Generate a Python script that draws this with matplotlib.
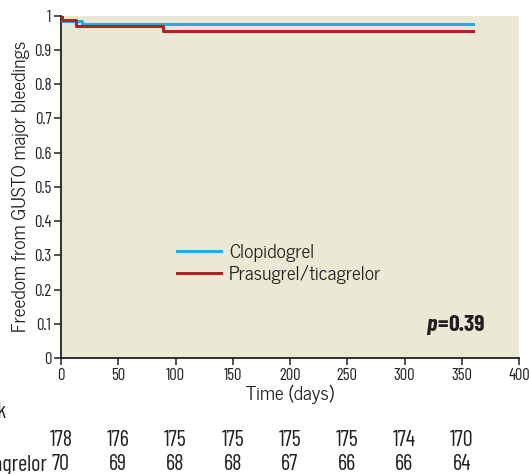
import matplotlib
matplotlib.use("Agg")
import matplotlib.pyplot as plt

# Data
clopi_t = [0, 1, 18, 360]
clopi_s = [1.0, 0.986, 0.977, 0.977]
pras_t = [0, 1, 13, 89, 360]
pras_s = [1.0, 0.988, 0.970, 0.955, 0.955]
risk_days = [0, 50, 100, 150, 200, 250, 300, 350]
risk_clopi = [178, 176, 175, 175, 175, 175, 174, 170]
risk_pras = [70, 69, 68, 68, 67, 66, 66, 64]
xticks = [0, 50, 100, 150, 200, 250, 300, 350, 400]
yticks = [0, 0.1, 0.2, 0.3, 0.4, 0.5, 0.6, 0.7, 0.8, 0.9, 1]
ytick_labels = ["0", "0.1", "0.2", "0.3", "0.4", "0.5", "0.6", "0.7", "0.8", "0.9", "1"]

narrow = ["Barlow Condensed", "Roboto Condensed", "DejaVu Sans"]
reg = ["News Cycle", "Liberation Sans", "DejaVu Sans"]
ink = "#231F20"

W, H = 529, 474
fig = plt.figure(figsize=(W/100, H/100), dpi=100)
ax = fig.add_axes([61/W, 1-358/H, (519-61)/W, (358-15.75)/H])
ax.set_facecolor("#ECE8D6")
blue = "#2BAAE1"
red = "#B3202A"
ax.step(clopi_t, clopi_s, where="post", color=blue, lw=2.2, label="Clopidogrel", zorder=3)
ax.step(pras_t, pras_s, where="post", color=red, lw=2.2, label="Prasugrel/ticagrelor", zorder=4)
ax.set_xlim(0, 400)
ax.set_ylim(0, 1)
for s in ["top", "right"]:
    ax.spines[s].set_visible(False)
for s in ["left", "bottom"]:
    ax.spines[s].set_linewidth(1.3)
    ax.spines[s].set_color(ink)
ax.set_xticks(xticks)
ax.set_xticklabels([str(v) for v in xticks], fontfamily=narrow, fontsize=12)
ax.set_yticks(yticks)
ax.set_yticklabels(ytick_labels, fontfamily=narrow, fontsize=12)
ax.tick_params(direction="out", length=5, width=1.1, color=ink, labelcolor=ink, pad=2)
ax.set_xlabel("Time (days)", fontfamily=reg, fontsize=14, color=ink, labelpad=1)
ax.set_ylabel("Freedom from GUSTO major bleedings", fontfamily=reg, fontsize=14, color=ink, labelpad=3)

leg = ax.legend(loc="upper left", bbox_to_anchor=((159-61)/458, 1-(226-15.75)/342.25), frameon=False,
                prop={"family": reg, "size": 14}, handlelength=2.3, handletextpad=0.4, labelspacing=0.2)
for t in leg.get_texts():
    t.set_color(ink)

fig.canvas.draw()
r = fig.canvas.get_renderer()
yp = 1 - 325/H
t3 = fig.text(485/W, yp, "0.39", ha="right", va="center", fontfamily=narrow, fontweight="bold", fontsize=17, color=ink)
b3 = t3.get_window_extent(r)
t2 = fig.text((b3.x0 - 1)/W, yp, "=", ha="right", va="center", fontfamily=narrow, fontweight="bold", fontsize=17, color=ink)
b2 = t2.get_window_extent(r)
fig.text((b2.x0 - 1)/W, yp, "p", ha="right", va="center", fontfamily=narrow, fontweight="bold", fontstyle="italic", fontsize=17, color=ink)

# at-risk table
for d, c, p in zip(risk_days, risk_clopi, risk_pras):
    xp = ax.transData.transform((d, 0))[0] / W
    fig.text(xp, 1-440/H, str(c), ha="center", va="center", fontfamily=narrow, fontsize=16, color=ink)
    fig.text(xp, 1-465/H, str(p), ha="center", va="center", fontfamily=narrow, fontsize=16, color=ink)
tp = fig.text(47/W, 1-465/H, "Prasugrel/ticagrelor", ha="right", va="center", fontfamily=narrow, fontsize=16, color=ink)
bp = tp.get_window_extent(r)
fig.text(bp.x0/W, 1-440/H, "Clopidogrel", ha="left", va="center", fontfamily=narrow, fontsize=16, color=ink)
fig.text(6/W, 1-413/H, "Patients at risk", ha="right", va="center", fontfamily=narrow, fontsize=16, color=ink)

fig.savefig("out.png", dpi=100)
